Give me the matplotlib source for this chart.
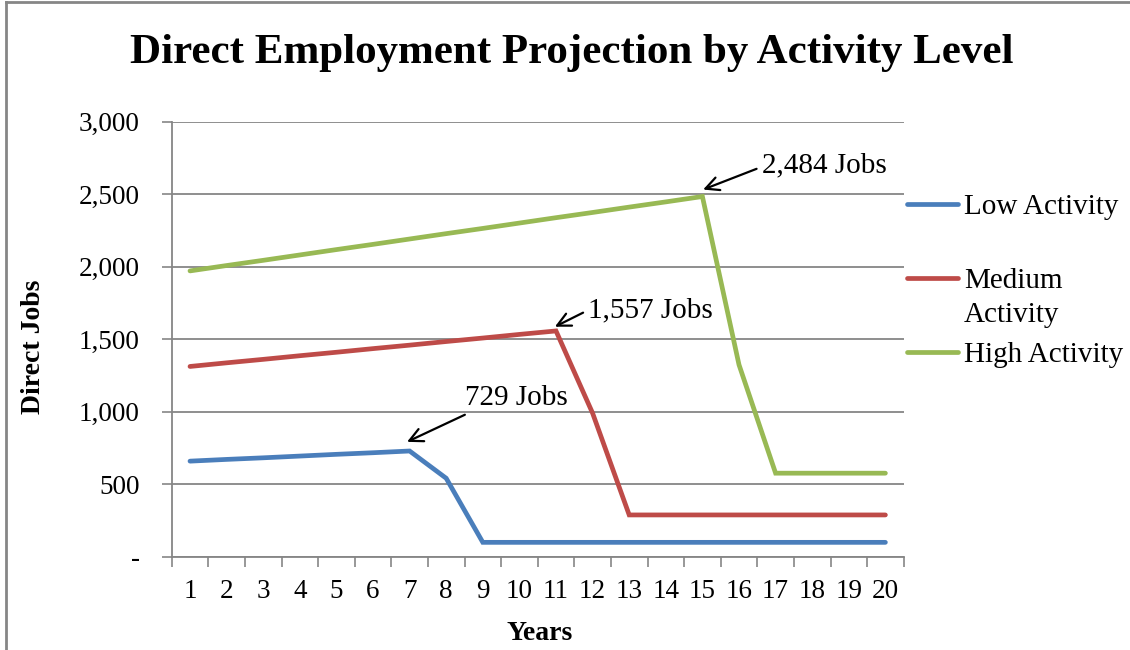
import matplotlib.pyplot as plt
from matplotlib.lines import Line2D

# data
years = list(range(1, 21))
low = [659, 671, 682, 694, 706, 717, 729, 541, 99, 99,
       99, 99, 99, 99, 99, 99, 99, 99, 99, 99]
medium = [1312, 1337, 1361, 1386, 1410, 1435, 1459, 1484, 1508, 1533,
          1557, 990, 288, 288, 288, 288, 288, 288, 288, 288]
high = [1971, 2008, 2044, 2081, 2118, 2154, 2191, 2228, 2264, 2301,
        2338, 2374, 2411, 2447, 2484, 1324, 576, 576, 576, 576]
series_names = ['Low Activity', 'Medium Activity', 'High Activity']
colors = ['#4A7EBB', '#BE4B48', '#98B954']
y_ticks = [0, 500, 1000, 1500, 2000, 2500, 3000]
y_labels = ['-', '500', '1,000', '1,500', '2,000', '2,500', '3,000']

plt.rcParams['font.family'] = ['Liberation Serif', 'DejaVu Serif']
grey = '#868686'
W, H = 1130, 650


# pixel position -> figure fraction
def fx(px):
    return px / W


def fy(py):
    return 1 - py / H


fig = plt.figure(figsize=(11.3, 6.5), dpi=100)
ax = fig.add_axes([fx(171.7), fy(556.7), fx(903.7) - fx(171.7), fy(121.7) - fy(556.7)])

# positions are category centres (year 1 at 0.5)
xs = [y - 0.5 for y in years]
for vals, c in zip([low, medium, high], colors):
    ax.plot(xs, vals, color=c, lw=3.4, solid_capstyle='round', solid_joinstyle='miter')

ax.set_xlim(0, 20)
ax.set_ylim(0, 3000)
ax.set_yticks(y_ticks)
ax.set_yticklabels(y_labels)
ax.set_xticks(range(0, 21))
ax.set_xticklabels([])
ax.set_xticks(xs, minor=True)
ax.set_xticklabels([str(y) for y in years], minor=True)
ax.tick_params(axis='x', which='minor', length=0, pad=16, labelsize=19.5)
ax.tick_params(axis='x', which='major', length=7, color=grey, width=1.2, direction='out')
ax.tick_params(axis='y', length=7, color=grey, width=1.2, pad=16, labelsize=19.5)
ax.grid(axis='y', color=grey, lw=1.3)
ax.set_axisbelow(True)
for s in ['top', 'right']:
    ax.spines[s].set_visible(False)
for s in ['left', 'bottom']:
    ax.spines[s].set_color(grey)
    ax.spines[s].set_linewidth(1.3)

fig.text(fx(540), fy(640), 'Years', fontsize=20, fontweight='bold', ha='center', va='baseline')
fig.text(fx(33), fy(347), 'Direct Jobs', fontsize=20, fontweight='bold', rotation=90,
         ha='center', va='center')
fig.text(fx(572), fy(63), 'Direct Employment Projection by Activity Level', fontsize=31,
         fontweight='bold', ha='center', va='baseline')

# peak callouts
arrow = dict(arrowstyle='->', color='black', lw=1.6, mutation_scale=24, shrinkA=0, shrinkB=0)
ax.annotate('', xy=(6.43, 792), xytext=(8.01, 979), arrowprops=arrow)
ax.text(8.01, 1096, '729 Jobs', fontsize=21, ha='left', va='center')
ax.annotate('', xy=(10.47, 1586), xytext=(11.24, 1683), arrowprops=arrow)
ax.text(11.37, 1697, '1,557 Jobs', fontsize=21, ha='left', va='center')
ax.annotate('', xy=(14.52, 2532), xytext=(15.98, 2675), arrowprops=arrow)
ax.text(16.12, 2698, '2,484 Jobs', fontsize=21, ha='left', va='center')

# legend, laid out like the spreadsheet legend
for i, (name, c) in enumerate(zip(series_names, colors)):
    ly = 204 + 74 * i
    fig.add_artist(Line2D([fx(907), fx(958)], [fy(ly), fy(ly)], color=c, lw=3.4,
                          solid_capstyle='round'))
    words = name.split(' ') if name.startswith('Medium') else [name]
    for j, w in enumerate(words):
        fig.text(fx(964), fy(ly + 10 + 34 * j), w, fontsize=21, ha='left', va='baseline')

# outer chart border (left and top visible)
fig.add_artist(Line2D([0.005, 0.005], [0, 0.997], color=grey, lw=2))
fig.add_artist(Line2D([0.005, 1], [0.997, 0.997], color=grey, lw=2))

fig.savefig('out.png', dpi=100)
